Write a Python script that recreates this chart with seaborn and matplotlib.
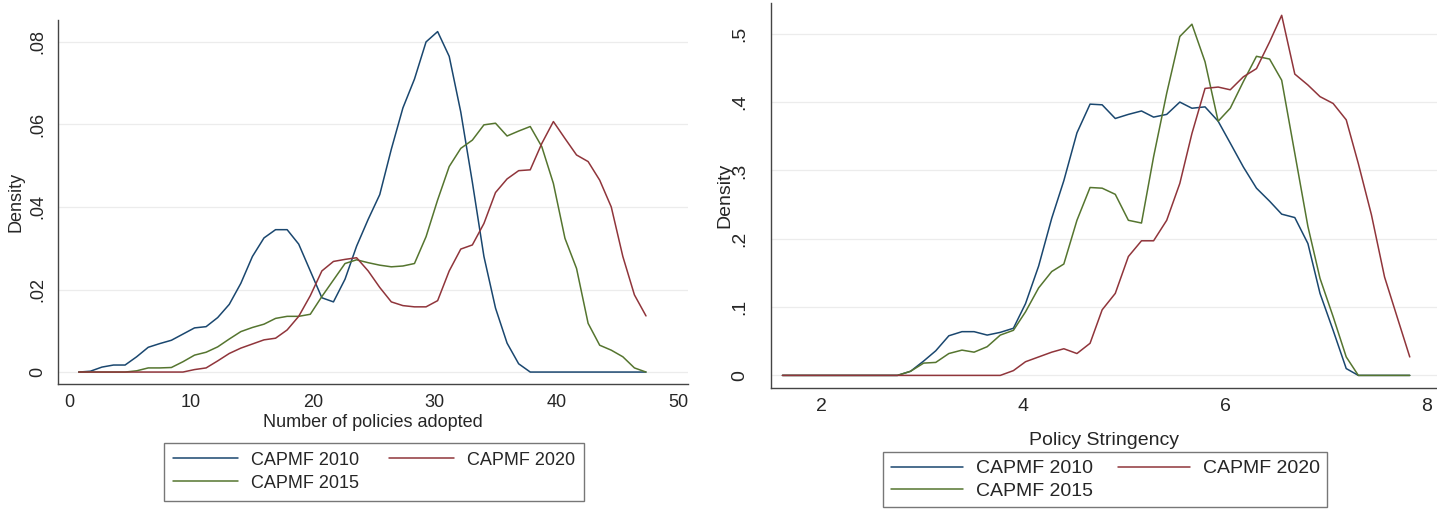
import pandas as pd
import matplotlib
matplotlib.use("Agg")
import matplotlib.pyplot as plt
import seaborn as sns

# -------------------------------
# Data
# -------------------------------
SERIES = ["CAPMF 2010", "CAPMF 2015", "CAPMF 2020"]
COLORS = ["#1a476f", "#55752f", "#90353b"]

policies_x = [0.8, 1.75, 2.7, 3.65, 4.6, 5.55, 6.5, 7.45, 8.4, 9.35,
              10.3, 11.25, 12.2, 13.15, 14.1, 15.05, 16.0, 16.95, 17.9, 18.85,
              19.8, 20.75, 21.7, 22.65, 23.6, 24.55, 25.5, 26.45, 27.4, 28.35,
              29.3, 30.25, 31.2, 32.15, 33.1, 34.05, 35.0, 35.95, 36.9, 37.85,
              38.8, 39.75, 40.7, 41.65, 42.6, 43.55, 44.5, 45.45, 46.4, 47.35]
policies_2010 = [0, 0.0002, 0.0012, 0.0017, 0.0017, 0.0037, 0.006, 0.0069, 0.0077, 0.0092,
                 0.0107, 0.011, 0.0132, 0.0164, 0.0215, 0.028, 0.0325, 0.0345, 0.0345, 0.031,
                 0.0245, 0.018, 0.017, 0.0225, 0.0305, 0.037, 0.043, 0.054, 0.064, 0.071,
                 0.080, 0.0825, 0.0765, 0.063, 0.046, 0.028, 0.0155, 0.007, 0.002, 0,
                 0, 0, 0, 0, 0, 0, 0, 0, 0, 0]
policies_2015 = [0, 0, 0, 0, 0, 0.0003, 0.001, 0.001, 0.0011, 0.0025,
                 0.0041, 0.0048, 0.0061, 0.008, 0.0098, 0.0108, 0.0116, 0.013, 0.0135, 0.0135,
                 0.014, 0.0183, 0.0223, 0.0263, 0.0272, 0.0265, 0.0259, 0.0255, 0.0257, 0.0263,
                 0.0328, 0.0417, 0.0498, 0.0542, 0.0562, 0.0599, 0.0603, 0.0572, 0.0584, 0.0595,
                 0.0546, 0.0457, 0.0324, 0.0251, 0.0118, 0.0065, 0.0053, 0.0037, 0.001, 0]
policies_2020 = [0, 0, 0, 0, 0, 0, 0, 0, 0, 0,
                 0.0006, 0.001, 0.0027, 0.0045, 0.0058, 0.0068, 0.0078, 0.0082, 0.0102, 0.0135,
                 0.0185, 0.0245, 0.0268, 0.0273, 0.0277, 0.0245, 0.0205, 0.017, 0.0161, 0.0158,
                 0.0158, 0.0173, 0.0245, 0.0298, 0.0308, 0.036, 0.0435, 0.0468, 0.0488, 0.049,
                 0.0554, 0.0607, 0.0566, 0.0526, 0.051, 0.0465, 0.040, 0.028, 0.0187, 0.0136]

stringency_x = [1.61, 1.74, 1.86, 1.99, 2.12, 2.24, 2.37, 2.50, 2.63, 2.75,
                2.88, 3.01, 3.13, 3.26, 3.39, 3.51, 3.64, 3.77, 3.90, 4.02,
                4.15, 4.28, 4.40, 4.53, 4.66, 4.78, 4.91, 5.04, 5.17, 5.29,
                5.42, 5.55, 5.67, 5.80, 5.93, 6.05, 6.18, 6.31, 6.44, 6.56,
                6.69, 6.82, 6.94, 7.07, 7.20, 7.32, 7.45, 7.58, 7.71, 7.83]
stringency_2010 = [0, 0, 0, 0, 0, 0, 0, 0, 0, 0,
                   0.006, 0.021, 0.036, 0.058, 0.064, 0.064, 0.059, 0.063, 0.069, 0.105,
                   0.16, 0.23, 0.285, 0.355, 0.397, 0.396, 0.376, 0.382, 0.387, 0.378,
                   0.382, 0.40, 0.391, 0.393, 0.372, 0.34, 0.305, 0.274, 0.255, 0.236,
                   0.231, 0.193, 0.12, 0.066, 0.01, 0, 0, 0, 0, 0]
stringency_2015 = [0, 0, 0, 0, 0, 0, 0, 0, 0, 0,
                   0.006, 0.018, 0.019, 0.032, 0.037, 0.034, 0.042, 0.059, 0.066, 0.093,
                   0.128, 0.152, 0.163, 0.227, 0.275, 0.274, 0.265, 0.227, 0.223, 0.32,
                   0.413, 0.496, 0.514, 0.459, 0.372, 0.391, 0.43, 0.467, 0.463, 0.432,
                   0.325, 0.218, 0.142, 0.086, 0.027, 0, 0, 0, 0, 0]
stringency_2020 = [0, 0, 0, 0, 0, 0, 0, 0, 0, 0,
                   0, 0, 0, 0, 0, 0, 0, 0, 0.007, 0.02,
                   0.027, 0.034, 0.039, 0.032, 0.047, 0.096, 0.12, 0.174, 0.197, 0.197,
                   0.227, 0.281, 0.354, 0.42, 0.422, 0.418, 0.437, 0.449, 0.488, 0.527,
                   0.441, 0.425, 0.408, 0.398, 0.374, 0.31, 0.235, 0.144, 0.083, 0.027]

policies_xticks = [0, 10, 20, 30, 40, 50]
policies_yticks = [0, 0.02, 0.04, 0.06, 0.08]
policies_ylabels = ["0", ".02", ".04", ".06", ".08"]
stringency_xticks = [2, 4, 6, 8]
stringency_yticks = [0, 0.1, 0.2, 0.3, 0.4, 0.5]
stringency_ylabels = ["0", ".1", ".2", ".3", ".4", ".5"]


def long_frame(x, cols):
    frames = []
    for name, ys in zip(SERIES, cols):
        frames.append(pd.DataFrame({"x": x, "density": ys, "series": name}))
    return pd.concat(frames, ignore_index=True)


def draw_panel(ax, df, xticks, yticks, ylabels, xlim, ylim, xlabel, fs, ypad,
               xlab_y, leg_anchor, leg_kw):
    sns.lineplot(data=df, x="x", y="density", hue="series", hue_order=SERIES,
                 palette=COLORS, linewidth=1.1, estimator=None, ax=ax)
    ax.set_xlim(*xlim)
    ax.set_ylim(*ylim)
    ax.set_xticks(xticks)
    ax.set_xticklabels([str(t) for t in xticks], fontsize=fs)
    ax.set_yticks(yticks)
    ax.set_yticklabels(ylabels, rotation=90, va="center", fontsize=fs)
    ax.yaxis.grid(True, color="#ececec", linewidth=0.9)
    ax.set_axisbelow(True)
    sns.despine(ax=ax)
    for side in ["left", "bottom"]:
        ax.spines[side].set_color("#444444")
        ax.spines[side].set_linewidth(1.0)
    ax.tick_params(axis="both", direction="out", length=6, width=0.9, color="#444444")
    ax.tick_params(axis="x", pad=1.5)
    ax.tick_params(axis="y", pad=ypad)
    ax.set_xlabel(xlabel, fontsize=fs)
    ax.set_ylabel("Density", fontsize=fs)
    ax.xaxis.set_label_coords(0.5, xlab_y)
    sns.move_legend(ax, "upper center", bbox_to_anchor=leg_anchor, ncol=2, title=None,
                    frameon=True, fancybox=False, edgecolor="#555555", fontsize=fs,
                    borderaxespad=0, **leg_kw)
    ax.get_legend().get_frame().set_linewidth(1.0)


sns.set_style("white")
plt.rcParams["font.family"] = ["Liberation Sans", "DejaVu Sans"]

fig = plt.figure(figsize=(14.37, 5.11), dpi=100)
ax1 = fig.add_axes([0.0404, 0.2485, 0.4384, 0.7123])
ax2 = fig.add_axes([0.5365, 0.2413, 0.4635, 0.7528])

draw_panel(ax1, long_frame(policies_x, [policies_2010, policies_2015, policies_2020]),
           policies_xticks, policies_yticks, policies_ylabels,
           (-0.9, 50.8), (-0.0029, 0.0853), "Number of policies adopted", 13, 2.5,
           -0.083, (0.5016, -0.161),
           dict(handlelength=3.6, handletextpad=0.7, columnspacing=1.65,
                labelspacing=0.33, borderpad=0.5))
ax1.yaxis.set_label_coords(-0.054, 0.5)

draw_panel(ax2, long_frame(stringency_x, [stringency_2010, stringency_2015, stringency_2020]),
           stringency_xticks, stringency_yticks, stringency_ylabels,
           (1.496, 8.10), (-0.018, 0.545), "Policy Stringency", 14, 10,
           -0.116, (0.502, -0.167),
           dict(handlelength=3.7, handletextpad=0.65, columnspacing=1.3,
                labelspacing=0.24, borderpad=0.4))
ax2.yaxis.set_label_coords(-0.0557, 0.5)

fig.savefig("out.png", dpi=100)
